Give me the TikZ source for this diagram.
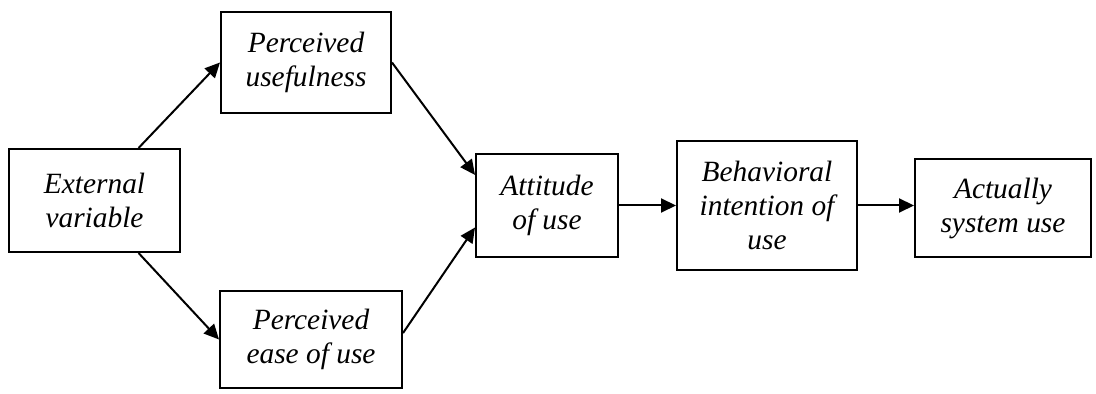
\documentclass[tikz,border=0pt]{standalone}
\usepackage{fontspec}
\setmainfont{Liberation Serif}
\usetikzlibrary{arrows.meta}

\begin{document}
\begin{tikzpicture}[
        x=0.5pt, y=-0.5pt,
        box/.style={draw, line width=1pt, align=center, inner sep=0pt,
          font=\fontsize{14.7}{17}\selectfont\itshape},
        arr/.style={line width=1pt, -{Triangle[length=7.5pt,width=7pt]}}
      ]
      \useasboundingbox (0,0) rectangle (1096,394);
      \node (ext) [box, minimum width=85.5pt, minimum height=51.5pt] at (94.5,200.5) {External\\variable};
      \node (use) [box, minimum width=85pt, minimum height=50.5pt] at (306,62.5) {Perceived\\usefulness};
      \node (ease) [box, minimum width=91pt, minimum height=48.5pt] at (311,339.5) {Perceived\\ease of use};
      \node (att) [box, minimum width=71pt, minimum height=51.5pt] at (547,205.5) {Attitude\\of use};
      \node (beh) [box, minimum width=90pt, minimum height=64.5pt] at (767,205.5) {Behavioral\\intention of\\use};
      \node (act) [box, minimum width=88pt, minimum height=49pt] at (1003,208) {Actually\\system use};
      \draw[arr] (ext.50) -- (use.west);
      \draw[arr] (ext.-50) -- (ease.west);
      \draw[arr] (use.east) -- (att.157);
      \draw[arr] (ease.4) -- (att.-163);
      \draw[arr] (att.east) -- (att.east -| beh.west);
      \draw[arr] (beh.east) -- (beh.east -| act.west);
    \end{tikzpicture}
\end{document}
